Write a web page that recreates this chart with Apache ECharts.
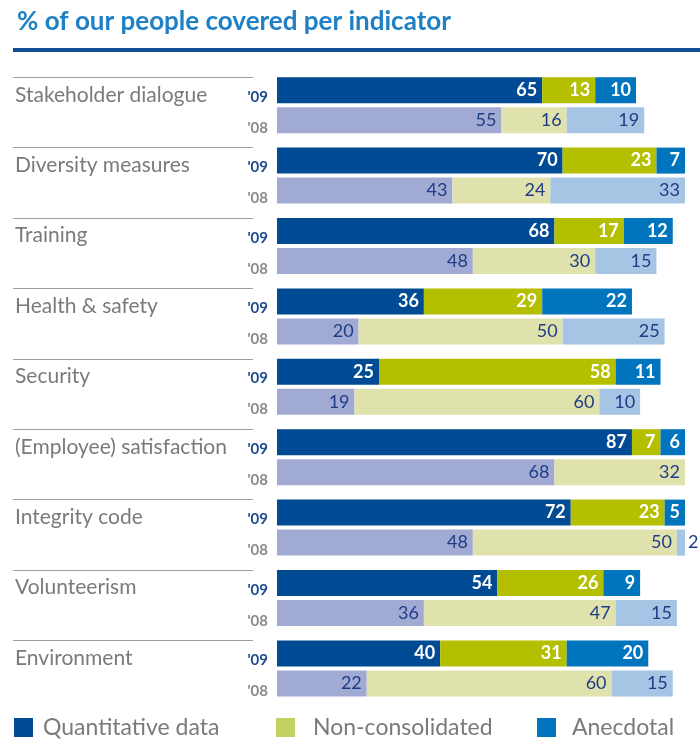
<!DOCTYPE html>
<html><head><meta charset="utf-8">
<script src="https://cdn.jsdelivr.net/npm/echarts@6/dist/echarts.min.js"></script>
<style>html,body{margin:0;padding:0;background:#fff}#c{width:700px;height:739px}</style>
</head><body><div id="c"></div>
<script>
const categories = ['Stakeholder dialogue','Diversity measures','Training','Health & safety','Security','(Employee) satisfaction','Integrity code','Volunteerism','Environment'];
const years = ["'09", "'08"];
const legendNames = ['Quantitative data','Non-consolidated','Anecdotal'];
const q09 = [65,70,68,36,25,87,72,54,40];
const n09 = [13,23,17,29,58,7,23,26,31];
const a09 = [10,7,12,22,11,6,5,9,20];
const q08 = [55,43,48,20,19,68,48,36,22];
const n08 = [16,24,30,50,60,32,50,47,60];
const a08 = [19,33,15,25,10,0,2,15,15];

const FONT = 'Lato';
const c09 = ['#004b93','#b4bf00','#0074bc'];
const c08 = ['#a1aad3','#e0e2ae','#a6c4e3'];
const legendSwatch = ['#004b93','#c2d162','#0074bc'];

function mk(name, data, stack, color, lblColor, bold) {
  return {
    type: 'bar', name: name, stack: stack, data: data.map(function(v, i){
      if (stack === 's08' && name.indexOf('Anecdotal') === 0 && v > 0 && v < 5) {
        return {value: v, label: {position: 'right', distance: 3}};
      }
      return v;
    }),
    xAxisIndex: 0, yAxisIndex: 0,
    barWidth: 26, barGap: '15.4%',
    itemStyle: {color: color},
    label: {show: true, position: 'insideRight', distance: 5, color: lblColor,
      fontFamily: FONT, fontSize: 18, fontWeight: bold ? 'bold' : 'normal',
      formatter: function(p){ return p.value ? String(p.value) : ''; }},
    emphasis: {disabled: true}, animation: false
  };
}

const chart = echarts.init(document.getElementById('c'));
chart.setOption({
  animation: false,
  title: {text: '% of our people covered per indicator', left: 12, top: 4,
    textStyle: {fontFamily: FONT, fontSize: 26, fontWeight: 'bold', color: '#1f80c6'}},
  graphic: [{type: 'rect', shape: {x: 13, y: 48, width: 687, height: 4}, style: {fill: '#0e4f96'}}],
  legend: legendNames.map(function(n, i){
    return {data: [{name: n, itemStyle: {color: legendSwatch[i]}}], left: [14, 276, 537][i], top: 716,
      padding: 0, itemWidth: 19, itemHeight: 19, icon: 'rect', selectedMode: false,
      textStyle: {fontFamily: FONT, fontSize: 23, color: '#7a7a7a', padding: [0,0,0,[5,13,11][i]]}};
  }),
  grid: [
    {left: 277, width: 408, top: 70, height: 633.6},
    {left: 13, width: 240, top: 77.2, height: 633.6}
  ],
  xAxis: [
    {type: 'value', gridIndex: 0, min: 0, max: 100, show: false},
    {type: 'value', gridIndex: 1, min: 0, max: 100, show: false}
  ],
  yAxis: [
    {type: 'category', gridIndex: 0, data: categories, inverse: true, show: false},
    {type: 'category', gridIndex: 1, data: categories, inverse: true, position: 'left',
      axisLine: {show: false}, axisTick: {show: false},
      splitLine: {show: true, showMaxLine: false, lineStyle: {color: '#9d9d9d', width: 1}},
      axisLabel: {margin: -2, align: 'left', fontFamily: FONT, fontSize: 21, color: '#7a7a7a',
        lineHeight: 35, formatter: function(v){ return v + '\n '; }}},
    {type: 'category', gridIndex: 1, data: categories, inverse: true, position: 'right',
      axisLine: {show: false}, axisTick: {show: false}, splitLine: {show: false},
      axisLabel: {margin: 15, align: 'right',
        formatter: function(){ return '{a|' + years[0] + '}\n{b|' + years[1] + '}'; },
        rich: {
          a: {fontFamily: FONT, fontSize: 15, fontWeight: 'bold', color: '#1c4b8e', lineHeight: 31},
          b: {fontFamily: FONT, fontSize: 15, fontWeight: 'bold', color: '#8a8a8a', lineHeight: 31}
        }}}
  ],
  series: [
    mk(legendNames[0], q09, 's09', c09[0], '#ffffff', true),
    mk(legendNames[1], n09, 's09', c09[1], '#ffffff', true),
    mk(legendNames[2], a09, 's09', c09[2], '#ffffff', true),
    mk(legendNames[0] + ' 2008', q08, 's08', c08[0], '#1f3d87', false),
    mk(legendNames[1] + ' 2008', n08, 's08', c08[1], '#1f3d87', false),
    mk(legendNames[2] + ' 2008', a08, 's08', c08[2], '#1f3d87', false)
  ]
});
</script></body></html>
